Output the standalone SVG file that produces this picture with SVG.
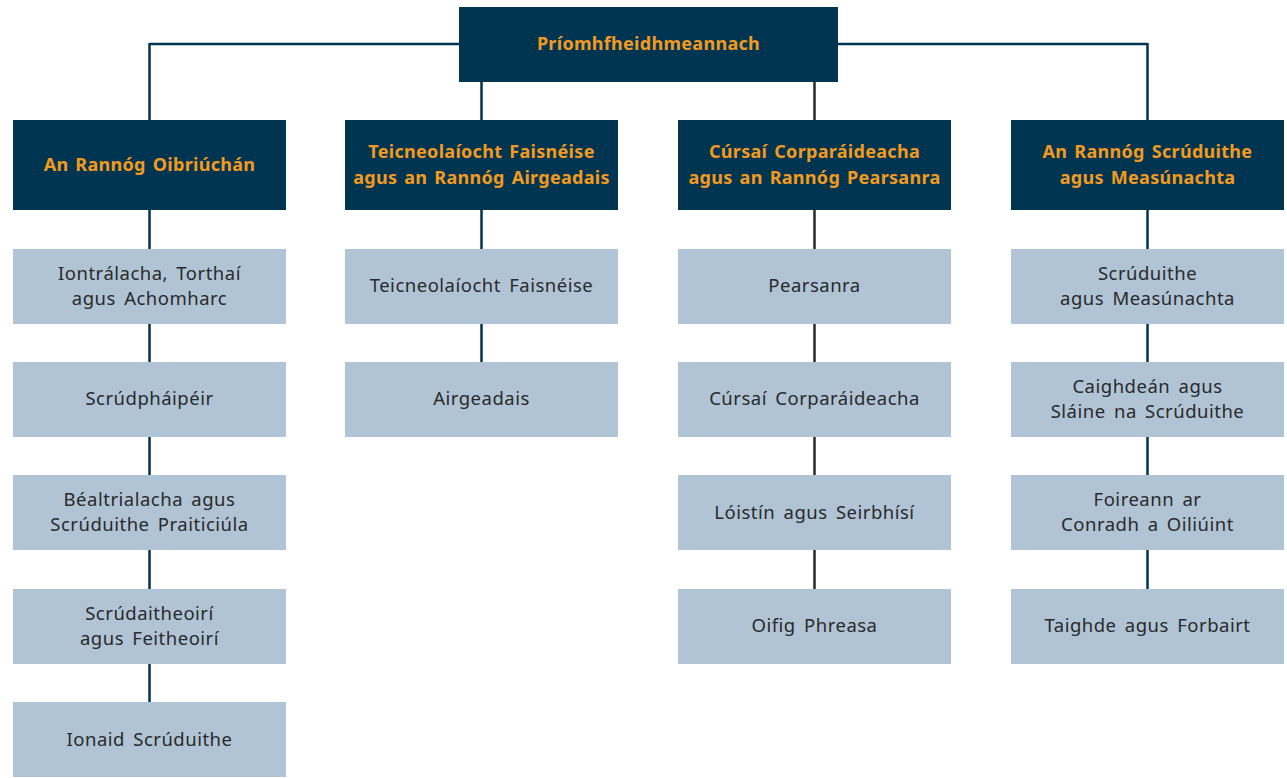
<svg xmlns="http://www.w3.org/2000/svg" width="1287" height="778" viewBox="0 0 1287 778">
<style>
.hd{fill:#003552}
.lt{fill:#b0c4d6}
.ht{fill:#f39a1e;font-family:"Noto Sans",sans-serif;font-weight:bold;font-size:18px;text-anchor:middle;letter-spacing:0.3px;word-spacing:2px}
.tt{fill:#2a2a2a;font-family:"Noto Sans",sans-serif;font-size:18.5px;text-anchor:middle;letter-spacing:0.5px;word-spacing:3px}
.cn{stroke:#003552;stroke-width:2.5;fill:none}
.cg{stroke:#2a2a2a;stroke-width:2.5;fill:none}
</style>
<rect width="1287" height="778" fill="#fff"/>
<g id="connectors">
<path class="cn" d="M149.5 44H459M838 44H1147.5M149.5 43V120M1147.5 43V120M481.5 82V120"/>
<path class="cg" d="M814.5 82V120"/>
<path class="cn" d="M149.5 210V702M481.5 210V362"/>
<path class="cg" d="M814.5 210V589"/>
<path class="cn" d="M1147.5 210V589"/>
</g>
<g id="ceo"><rect class="hd" x="459" y="7" width="379" height="75"/><text class="ht" x="648.5" y="50">Príomhfheidhmeannach</text></g>
<g id="h1"><rect class="hd" x="13" y="120" width="273" height="90"/><text class="ht" x="149.5" y="171">An Rannóg Oibriúchán</text></g>
<g id="h2"><rect class="hd" x="345" y="120" width="273" height="90"/><text class="ht" x="481.5" y="158">Teicneolaíocht Faisnéise</text><text class="ht" x="481.5" y="184">agus an Rannóg Airgeadais</text></g>
<g id="h3"><rect class="hd" x="678" y="120" width="273" height="90"/><text class="ht" x="814.5" y="158">Cúrsaí Corparáideacha</text><text class="ht" x="814.5" y="184">agus an Rannóg Pearsanra</text></g>
<g id="h4"><rect class="hd" x="1011" y="120" width="273" height="90"/><text class="ht" x="1147.5" y="158">An Rannóg Scrúduithe</text><text class="ht" x="1147.5" y="184">agus Measúnachta</text></g>

<g id="c1r1"><rect class="lt" x="13" y="249" width="273" height="75"/><text class="tt" x="149.5" y="280">Iontrálacha, Torthaí</text><text class="tt" x="149.5" y="305">agus Achomharc</text></g>
<g id="c1r2"><rect class="lt" x="13" y="362" width="273" height="75"/><text class="tt" x="149.5" y="405">Scrúdpháipéir</text></g>
<g id="c1r3"><rect class="lt" x="13" y="475" width="273" height="75"/><text class="tt" x="149.5" y="506">Béaltrialacha agus</text><text class="tt" x="149.5" y="531">Scrúduithe Praiticiúla</text></g>
<g id="c1r4"><rect class="lt" x="13" y="589" width="273" height="75"/><text class="tt" x="149.5" y="620">Scrúdaitheoirí</text><text class="tt" x="149.5" y="645">agus Feitheoirí</text></g>
<g id="c1r5"><rect class="lt" x="13" y="702" width="273" height="75"/><text class="tt" x="149.5" y="746">Ionaid Scrúduithe</text></g>

<g id="c2r1"><rect class="lt" x="345" y="249" width="273" height="75"/><text class="tt" x="481.5" y="292">Teicneolaíocht Faisnéise</text></g>
<g id="c2r2"><rect class="lt" x="345" y="362" width="273" height="75"/><text class="tt" x="481.5" y="405">Airgeadais</text></g>

<g id="c3r1"><rect class="lt" x="678" y="249" width="273" height="75"/><text class="tt" x="814.5" y="292">Pearsanra</text></g>
<g id="c3r2"><rect class="lt" x="678" y="362" width="273" height="75"/><text class="tt" x="814.5" y="405">Cúrsaí Corparáideacha</text></g>
<g id="c3r3"><rect class="lt" x="678" y="475" width="273" height="75"/><text class="tt" x="814.5" y="519">Lóistín agus Seirbhísí</text></g>
<g id="c3r4"><rect class="lt" x="678" y="589" width="273" height="75"/><text class="tt" x="814.5" y="632">Oifig Phreasa</text></g>

<g id="c4r1"><rect class="lt" x="1011" y="249" width="273" height="75"/><text class="tt" x="1147.5" y="280">Scrúduithe</text><text class="tt" x="1147.5" y="305">agus Measúnachta</text></g>
<g id="c4r2"><rect class="lt" x="1011" y="362" width="273" height="75"/><text class="tt" x="1147.5" y="393">Caighdeán agus</text><text class="tt" x="1147.5" y="418">Sláine na Scrúduithe</text></g>
<g id="c4r3"><rect class="lt" x="1011" y="475" width="273" height="75"/><text class="tt" x="1147.5" y="506">Foireann ar</text><text class="tt" x="1147.5" y="531">Conradh a Oiliúint</text></g>
<g id="c4r4"><rect class="lt" x="1011" y="589" width="273" height="75"/><text class="tt" x="1147.5" y="632">Taighde agus Forbairt</text></g>
</svg>
